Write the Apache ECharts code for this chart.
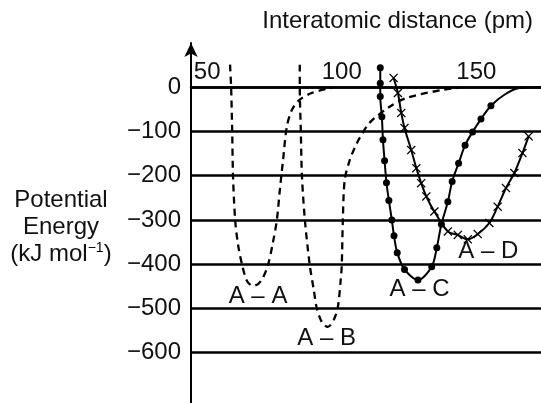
<!DOCTYPE html>
<html>
<head>
<meta charset="utf-8">
<script src="https://cdn.jsdelivr.net/npm/echarts@6/dist/echarts.min.js"></script>
<style>
  html, body { margin: 0; padding: 0; background: #fff; }
  #chart { width: 541px; height: 403px; }
</style>
</head>
<body>
<div id="chart"></div>
<script>
// axis ranges and tick labels
const xRange = [44, 174];
const yRange = [-714, 100];
const xTickLabels = [50, 100, 150];
const yTickLabels = [0, -100, -200, -300, -400, -500, -600];
const hLines = [0, -100, -200, -300, -400, -500, -600];

// curves: [distance pm, energy kJ/mol]
const aaCurve = [
  [58.5, 51], [58.9, 0], [59.3, -100], [59.6, -200], [60.4, -300], [61.5, -357],
  [63.0, -402], [64.8, -438], [67.0, -449], [68.9, -445], [70.7, -431], [72.6, -402],
  [74.4, -352], [75.9, -300], [77.0, -232], [78.2, -164], [79.6, -89], [81.5, -51],
  [84.4, -28], [89.3, -12], [96.7, -1]
];
const abCurve = [
  [84.4, 51], [84.4, 0], [84.8, -100], [85.2, -200], [86.3, -300], [88.1, -402],
  [89.6, -458], [90.7, -499], [92.6, -531], [94.8, -542], [97.0, -526], [98.5, -499],
  [99.6, -436], [100.0, -402], [100.4, -300], [101.1, -209], [103.0, -164], [104.8, -137],
  [106.7, -114], [110.4, -80], [117.8, -44], [124.1, -24], [137.4, -6], [143.7, -1]
];
// points with a dot, then the plain tail
const acCurve = [
  [114.3, 44], [114.3, 9], [114.3, -21], [114.9, -67], [115.3, -119], [115.9, -166],
  [116.6, -216], [117.5, -256], [118.6, -300], [119.4, -336], [120.6, -374], [123.3, -412],
  [128.3, -436], [133.4, -406], [135.3, -363], [137.0, -310], [139.4, -259], [141.0, -213],
  [143.4, -172], [145.8, -131], [148.6, -101], [151.7, -72], [155.4, -42]
];
const acTail = [[160.4, -17], [165.9, -2], [174, 0]];
const adCurve = [
  [119.25, 21], [120.85, -13], [122.1, -58], [123.3, -92], [125.8, -142], [127.7, -183],
  [129.5, -217], [131.4, -247], [134.4, -281], [139.4, -326], [143.1, -334], [146.8, -344],
  [150.5, -332], [154.8, -307], [157.9, -270], [161.0, -228], [164.1, -194], [167.1, -149],
  [169.4, -111]
];

// curve names and where they are written
const curveNames = ['A – A', 'A – B', 'A – C', 'A – D'];
const namePoints = [[68.9, -472], [94.4, -567], [128.9, -458], [154.4, -372]];

const font = 'Liberation Sans, Arial, sans-serif';
const crossPath = 'path://M0,1L1,0L5,4L9,0L10,1L6,5L10,9L9,10L5,6L1,10L0,9L4,5Z';
const minus = (v) => (v < 0 ? '\u2212' + Math.abs(v) : String(v));

const chart = echarts.init(document.getElementById('chart'));

// px from grid top down to the zero line
const zeroDrop = (yRange[1] / (yRange[1] - yRange[0])) * (403 - 43);

chart.setOption({
  animation: false,
  textStyle: { fontFamily: font, color: '#000' },
  title: [
    {
      text: 'Interatomic distance (pm)',
      right: 8,
      top: 9,
      padding: 0,
      textStyle: { fontFamily: font, fontSize: 24, fontWeight: 'normal', color: '#111' },
    },
    {
      text: 'Potential\nEnergy\n(kJ mol{sup|\u22121})',
      left: 61,
      top: 187,
      padding: 0,
      textAlign: 'center',
      textStyle: {
        fontFamily: font, fontSize: 24, fontWeight: 'normal', color: '#111', lineHeight: 27,
        rich: { sup: { fontSize: 14, verticalAlign: 'top', lineHeight: 27, padding: [0, 0, 12, 0] } },
      },
    },
  ],
  grid: { left: 191, right: 0, top: 43, bottom: 0 },
  xAxis: {
    type: 'value',
    position: 'top',
    offset: -zeroDrop,
    min: xRange[0],
    max: xRange[1],
    axisLine: { onZero: false, lineStyle: { color: '#000', width: 2.5 } },
    axisTick: { show: false },
    splitLine: { show: false },
    axisLabel: {
      customValues: xTickLabels,
      margin: 3,
      fontSize: 24,
      color: '#111',
      fontFamily: font,
    },
  },
  yAxis: {
    type: 'value',
    min: yRange[0],
    max: yRange[1],
    axisLine: {
      show: true,
      onZero: false,
      symbol: ['none', 'arrow'],
      symbolSize: [10, 14],
      lineStyle: { color: '#000', width: 2 },
    },
    axisTick: { show: false },
    splitLine: { show: false },
    axisLabel: {
      customValues: yTickLabels,
      margin: 10,
      fontSize: 24,
      color: '#111',
      fontFamily: font,
      formatter: minus,
    },
  },
  series: [
    {
      name: 'A–A',
      type: 'line',
      data: aaCurve,
      smooth: 0.3,
      showSymbol: false,
      lineStyle: { color: '#000', width: 2.3, type: [7, 5] },
      markLine: {
        silent: true,
        symbol: ['none', 'none'],
        label: { show: false },
        lineStyle: { color: '#000', width: 2.5, type: 'solid' },
        data: hLines.map((v) => ({ yAxis: v })),
      },
    },
    {
      name: 'A–B',
      type: 'line',
      data: abCurve,
      smooth: 0.3,
      showSymbol: false,
      lineStyle: { color: '#000', width: 2.3, type: [7, 5] },
    },
    {
      name: 'A–C',
      type: 'line',
      data: acCurve.map((p) => ({ value: p })).concat(acTail.map((p) => ({ value: p, symbol: 'none' }))),
      smooth: 0.3,
      symbol: 'circle',
      symbolSize: 7,
      itemStyle: { color: '#000' },
      lineStyle: { color: '#000', width: 2 },
    },
    {
      name: 'A–D',
      type: 'line',
      data: adCurve,
      smooth: 0.3,
      symbol: crossPath,
      symbolSize: 9,
      itemStyle: { color: '#000' },
      lineStyle: { color: '#000', width: 2 },
    },
    {
      name: 'labels',
      type: 'scatter',
      symbol: 'circle',
      symbolSize: 1,
      silent: true,
      itemStyle: { color: '#fff', opacity: 1 },
      data: namePoints.map((p, i) => ({ value: p, name: curveNames[i] })),
      label: {
        show: true,
        position: 'inside',
        formatter: (p) => p.name,
        fontSize: 24,
        color: '#111',
        textBorderWidth: 0,
        fontFamily: font,
      },
    },
  ],
});
</script>
</body>
</html>
